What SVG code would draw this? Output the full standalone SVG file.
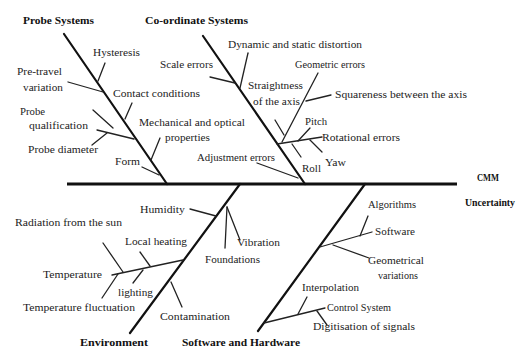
<svg xmlns="http://www.w3.org/2000/svg" width="528" height="347" viewBox="0 0 528 347">
<style>
.t{font-family:"Liberation Serif","Times New Roman",serif;font-size:10.5px;fill:#222}
.b{font-family:"Liberation Serif","Times New Roman",serif;font-size:10.5px;font-weight:bold;fill:#111}
.spine{stroke:#111;stroke-width:3;fill:none}
.bone{stroke:#111;stroke-width:2.2;fill:none;stroke-linecap:round}
.tick{stroke:#222;stroke-width:1.3;fill:none;stroke-linecap:round}
</style>
<rect width="528" height="347" fill="#fff"/>
<g id="connectors">
<line class="spine" x1="67" y1="184" x2="457" y2="184"/>
<line class="bone" x1="64" y1="34" x2="167" y2="184"/>
<line class="bone" x1="203" y1="36" x2="305" y2="184"/>
<line class="bone" x1="240" y1="184" x2="130" y2="333"/>
<line class="bone" x1="365" y1="184" x2="258" y2="331"/>
<!-- probe -->
<line class="tick" x1="105" y1="63" x2="98" y2="81"/>
<line class="tick" x1="68" y1="82" x2="103" y2="92"/>
<line class="tick" x1="132" y1="103" x2="125" y2="119"/>
<line class="tick" x1="93" y1="110" x2="113" y2="128"/>
<line class="tick" x1="97" y1="130" x2="134" y2="139"/>
<line class="tick" x1="92" y1="145" x2="107" y2="133"/>
<line class="tick" x1="160" y1="138" x2="151" y2="160"/>
<line class="tick" x1="142" y1="167" x2="159" y2="175"/>
<!-- coordinate -->
<line class="tick" x1="248" y1="53" x2="240" y2="88"/>
<line class="tick" x1="210" y1="77" x2="235" y2="83"/>
<line class="tick" x1="318" y1="73" x2="282" y2="142"/>
<line class="tick" x1="306" y1="101" x2="331" y2="95"/>
<line class="tick" x1="275" y1="120" x2="284" y2="135"/>
<line class="tick" x1="277" y1="144" x2="322" y2="137"/>
<line class="tick" x1="298" y1="141" x2="310" y2="128"/>
<line class="tick" x1="310" y1="140" x2="322" y2="152"/>
<line class="tick" x1="292" y1="144" x2="301" y2="157"/>
<line class="tick" x1="257" y1="163" x2="298" y2="178"/>
<!-- environment -->
<line class="tick" x1="190" y1="209" x2="216" y2="216"/>
<line class="tick" x1="227" y1="207" x2="240" y2="240"/>
<line class="tick" x1="227" y1="207" x2="225" y2="248"/>
<line class="tick" x1="183" y1="260" x2="112" y2="275"/>
<line class="tick" x1="140" y1="252" x2="150" y2="266"/>
<line class="tick" x1="103" y1="243" x2="123" y2="272"/>
<line class="tick" x1="102" y1="298" x2="118" y2="274"/>
<line class="tick" x1="133" y1="283" x2="143" y2="270"/>
<line class="tick" x1="182" y1="307" x2="171" y2="282"/>
<!-- software -->
<line class="tick" x1="320" y1="247" x2="372" y2="232"/>
<line class="tick" x1="360" y1="236" x2="368" y2="216"/>
<line class="tick" x1="333" y1="245" x2="369" y2="258"/>
<line class="tick" x1="264" y1="323" x2="325" y2="308"/>
<line class="tick" x1="298" y1="314" x2="307" y2="297"/>
<line class="tick" x1="317" y1="311" x2="327" y2="325"/>
</g>
<g id="probe-systems">
<text class="b" x="23" y="24" textLength="71" lengthAdjust="spacingAndGlyphs">Probe Systems</text>
<text class="t" x="93" y="56" textLength="47" lengthAdjust="spacingAndGlyphs">Hysteresis</text>
<text class="t" x="17" y="75" textLength="45" lengthAdjust="spacingAndGlyphs">Pre-travel</text>
<text class="t" x="23" y="91" textLength="40" lengthAdjust="spacingAndGlyphs">variation</text>
<text class="t" x="113" y="97" textLength="87" lengthAdjust="spacingAndGlyphs">Contact conditions</text>
<text class="t" x="20" y="115" textLength="25" lengthAdjust="spacingAndGlyphs">Probe</text>
<text class="t" x="29" y="129" textLength="59" lengthAdjust="spacingAndGlyphs">qualification</text>
<text class="t" x="28" y="153" textLength="70" lengthAdjust="spacingAndGlyphs">Probe diameter</text>
<text class="t" x="139" y="126" textLength="106" lengthAdjust="spacingAndGlyphs">Mechanical and optical</text>
<text class="t" x="165" y="141" textLength="45" lengthAdjust="spacingAndGlyphs">properties</text>
<text class="t" x="115" y="165" textLength="25" lengthAdjust="spacingAndGlyphs">Form</text>
</g>
<g id="coordinate-systems">
<text class="b" x="145" y="24" textLength="103" lengthAdjust="spacingAndGlyphs">Co-ordinate Systems</text>
<text class="t" x="228" y="48" textLength="134" lengthAdjust="spacingAndGlyphs">Dynamic and static distortion</text>
<text class="t" x="160" y="68" textLength="53" lengthAdjust="spacingAndGlyphs">Scale errors</text>
<text class="t" x="295" y="68" textLength="70" lengthAdjust="spacingAndGlyphs">Geometric errors</text>
<text class="t" x="248" y="89" textLength="55" lengthAdjust="spacingAndGlyphs">Straightness</text>
<text class="t" x="253" y="105" textLength="47" lengthAdjust="spacingAndGlyphs">of the axis</text>
<text class="t" x="335" y="98" textLength="132" lengthAdjust="spacingAndGlyphs">Squareness between the axis</text>
<text class="t" x="305" y="125" textLength="22" lengthAdjust="spacingAndGlyphs">Pitch</text>
<text class="t" x="322" y="141" textLength="78" lengthAdjust="spacingAndGlyphs">Rotational errors</text>
<text class="t" x="325" y="166" textLength="21" lengthAdjust="spacingAndGlyphs">Yaw</text>
<text class="t" x="302" y="172" textLength="19" lengthAdjust="spacingAndGlyphs">Roll</text>
<text class="t" x="197" y="161" textLength="78" lengthAdjust="spacingAndGlyphs">Adjustment errors</text>
</g>
<g id="cmm-uncertainty">
<text class="b" x="477" y="181" textLength="22" lengthAdjust="spacingAndGlyphs">CMM</text>
<text class="b" x="465" y="206" textLength="50" lengthAdjust="spacingAndGlyphs">Uncertainty</text>
</g>
<g id="environment">
<text class="t" x="140" y="213" textLength="45" lengthAdjust="spacingAndGlyphs">Humidity</text>
<text class="t" x="237" y="246" textLength="43" lengthAdjust="spacingAndGlyphs">Vibration</text>
<text class="t" x="205" y="263" textLength="55" lengthAdjust="spacingAndGlyphs">Foundations</text>
<text class="t" x="15" y="226" textLength="107" lengthAdjust="spacingAndGlyphs">Radiation from the sun</text>
<text class="t" x="125" y="245" textLength="62" lengthAdjust="spacingAndGlyphs">Local heating</text>
<text class="t" x="43" y="278" textLength="59" lengthAdjust="spacingAndGlyphs">Temperature</text>
<text class="t" x="118" y="296" textLength="35" lengthAdjust="spacingAndGlyphs">lighting</text>
<text class="t" x="23" y="311" textLength="112" lengthAdjust="spacingAndGlyphs">Temperature fluctuation</text>
<text class="t" x="160" y="320" textLength="70" lengthAdjust="spacingAndGlyphs">Contamination</text>
<text class="b" x="80" y="345.5" textLength="68" lengthAdjust="spacingAndGlyphs">Environment</text>
</g>
<g id="software-hardware">
<text class="b" x="182" y="345.5" textLength="118" lengthAdjust="spacingAndGlyphs">Software and Hardware</text>
<text class="t" x="368" y="208" textLength="48" lengthAdjust="spacingAndGlyphs">Algorithms</text>
<text class="t" x="375" y="235" textLength="40" lengthAdjust="spacingAndGlyphs">Software</text>
<text class="t" x="368" y="264" textLength="56" lengthAdjust="spacingAndGlyphs">Geometrical</text>
<text class="t" x="378" y="279" textLength="40" lengthAdjust="spacingAndGlyphs">variations</text>
<text class="t" x="302" y="291" textLength="57" lengthAdjust="spacingAndGlyphs">Interpolation</text>
<text class="t" x="327" y="311" textLength="64" lengthAdjust="spacingAndGlyphs">Control System</text>
<text class="t" x="313" y="330" textLength="102" lengthAdjust="spacingAndGlyphs">Digitisation of signals</text>
</g>
</svg>
